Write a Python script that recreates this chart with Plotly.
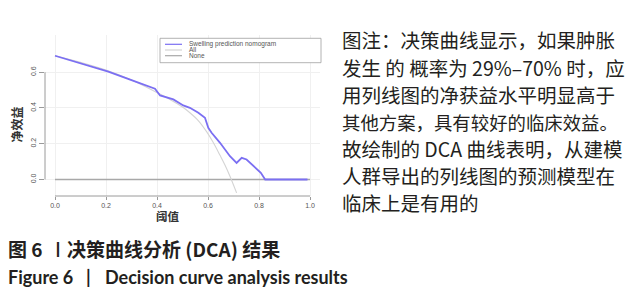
import plotly.graph_objects as go

# ---------------- data ----------------
threshold_model = [0, 0.1, 0.209, 0.3, 0.36, 0.392, 0.412, 0.431, 0.464, 0.503, 0.529,
                   0.562, 0.588, 0.601, 0.614, 0.647, 0.686, 0.712, 0.732, 0.751,
                   0.784, 0.807, 0.824, 0.9, 0.99]
nb_model = [0.692, 0.65, 0.603, 0.556, 0.526, 0.508, 0.47, 0.462, 0.448, 0.414, 0.401,
            0.373, 0.345, 0.289, 0.261, 0.205, 0.13, 0.093, 0.121, 0.112,
            0.065, 0.037, 0.0, 0.0, 0.0]

threshold_all = [0, 0.1, 0.2, 0.3, 0.4, 0.451, 0.5, 0.529, 0.56, 0.595, 0.62,
                 0.647, 0.67, 0.686, 0.712]
nb_all = [0.692, 0.655, 0.612, 0.556, 0.486, 0.447, 0.405, 0.373, 0.332, 0.266, 0.208,
          0.135, 0.07, 0.018, -0.075]

threshold_none = [0, 1]
nb_none = [0, 0]

series_names = ["Swelling prediction nomogram", "All", "None"]
series_colors = ["#7b6ff2", "#d4d4d4", "#a8a8a8"]

x_ticks = [0, 0.2, 0.4, 0.6, 0.8, 1.0]
x_ticklabels = ["0.0", "0.2", "0.4", "0.6", "0.8", "1.0"]
y_ticks = [0, 0.2, 0.4, 0.6]
y_ticklabels = ["0.0", "0.2", "0.4", "0.6"]

x_title = "阈值"
y_title = "净效益"

note_lines = [
    "图注：决策曲线显示，如果肿胀",
    "发生 的 概率为 29%–70% 时，应",
    "用列线图的净获益水平明显高于",
    "其他方案，具有较好的临床效益。",
    "故绘制的 DCA 曲线表明，从建模",
    "人群导出的列线图的预测模型在",
    "临床上是有用的",
]
caption_cn = ["图 6", "丨", "决策曲线分析 (DCA) 结果"]
caption_en = ["Figure 6", "|", "Decision curve analysis results"]

# ---------------- layout geometry ----------------
# the page body has an 8px margin, so the figure is drawn at (8, 8)
OFF = 8
W, H = 639 - OFF, 300 - OFF
# plot area in page pixels
L, R, T, B = 45, 320, 35, 196


def px(x):
    return (x - L) / (R - L)


def py(y):
    return (B - y) / (B - T)


CJK = "Noto Sans CJK SC"
TXT = "#231f20"
PAD = 2  # annotation inner padding

fig = go.Figure()
fig.add_trace(go.Scatter(x=threshold_none, y=nb_none, mode="lines", name=series_names[2],
                         line=dict(color=series_colors[2], width=1.3), showlegend=False))
fig.add_trace(go.Scatter(x=threshold_all, y=nb_all, mode="lines", name=series_names[1],
                         line=dict(color=series_colors[1], width=1.1, shape="spline"),
                         showlegend=False))
fig.add_trace(go.Scatter(x=threshold_model, y=nb_model, mode="lines", name=series_names[0],
                         line=dict(color=series_colors[0], width=1.8), showlegend=False))

shapes = []
# R-style axis lines spanning the tick range
shapes.append(dict(type="line", xref="paper", yref="y", x0=0, x1=0,
                   y0=y_ticks[0], y1=y_ticks[-1], line=dict(color="#9a9a9a", width=1)))
shapes.append(dict(type="line", xref="x", yref="paper", x0=x_ticks[0], x1=x_ticks[-1],
                   y0=0, y1=0, line=dict(color="#9a9a9a", width=1)))
# legend box
shapes.append(dict(type="rect", xref="paper", yref="paper", x0=px(160), x1=px(321),
                   y0=py(62.7), y1=py(38.3), line=dict(color="#a0a0a0", width=0.8),
                   fillcolor="white", layer="above"))
annotations = []
rows = [44.3, 50, 55.7]
for i, name in enumerate(series_names):
    shapes.append(dict(type="line", xref="paper", yref="paper", x0=px(165), x1=px(182),
                       y0=py(rows[i]), y1=py(rows[i]),
                       line=dict(color=series_colors[i], width=1.2), layer="above"))
    annotations.append(dict(xref="paper", yref="paper", x=px(189 - PAD), y=py(rows[i]),
                            text=name, showarrow=False, xanchor="left", yanchor="middle",
                            font=dict(family="Liberation Sans", size=6.5, color="#555")))

# axis titles
annotations.append(dict(xref="paper", yref="paper", x=px(16.5), y=py(125), text=y_title,
                        textangle=-90, showarrow=False, xanchor="center", yanchor="middle",
                        borderpad=0, borderwidth=0,
                        font=dict(family=CJK, size=12, color="#333", weight="bold")))
annotations.append(dict(xref="paper", yref="paper", x=px(168), y=py(215.5), text=x_title,
                        showarrow=False, xanchor="center", yanchor="middle",
                        font=dict(family=CJK, size=11.5, color="#333", weight="bold")))

# right-hand note (line 4 has 15 full-width glyphs, so slightly smaller to fit)
note_y = [40, 67.5, 94.5, 121.5, 148, 175, 202]
note_size = [19.5, 19.5, 19.5, 18.4, 19.5, 19.5, 19.5]
for t, yy, fs in zip(note_lines, note_y, note_size):
    annotations.append(dict(xref="paper", yref="paper", x=px(342 - PAD), y=py(yy),
                            text=t, showarrow=False, xanchor="left", yanchor="middle",
                            font=dict(family=CJK, size=fs, color=TXT)))

# captions
annotations.append(dict(xref="paper", yref="paper", x=px(8 - PAD), y=py(248),
                        text=caption_cn[0], showarrow=False, xanchor="left", yanchor="middle",
                        font=dict(family=CJK, size=19, color=TXT, weight="bold")))
annotations.append(dict(xref="paper", yref="paper", x=px(58), y=py(248),
                        text=caption_cn[1], showarrow=False, xanchor="center",
                        yanchor="middle",
                        font=dict(family=CJK, size=16, color=TXT, weight="bold")))
annotations.append(dict(xref="paper", yref="paper", x=px(67 - PAD), y=py(248),
                        text=caption_cn[2], showarrow=False, xanchor="left", yanchor="middle",
                        font=dict(family=CJK, size=19, color=TXT, weight="bold")))

annotations.append(dict(xref="paper", yref="paper", x=px(8 - PAD), y=py(277),
                        text=caption_en[0], showarrow=False, xanchor="left", yanchor="middle",
                        font=dict(family="Lato", size=18, color=TXT, weight="bold")))
annotations.append(dict(xref="paper", yref="paper", x=px(88), y=py(277),
                        text=caption_en[1], showarrow=False, xanchor="center",
                        yanchor="middle",
                        font=dict(family="Lato", size=18, color=TXT, weight="bold")))
annotations.append(dict(xref="paper", yref="paper", x=px(105 - PAD), y=py(277),
                        text=caption_en[2], showarrow=False, xanchor="left", yanchor="middle",
                        font=dict(family="Lato", size=18, color=TXT, weight="bold")))

fig.update_layout(
    width=W, height=H,
    margin=dict(l=L - OFF, r=W - (R - OFF), t=T - OFF, b=H - (B - OFF), pad=0),
    paper_bgcolor="white", plot_bgcolor="white",
    shapes=shapes, annotations=annotations,
    showlegend=False,
)
fig.update_xaxes(range=[-0.0392, 1.039], tickvals=x_ticks, ticktext=x_ticklabels,
                 showgrid=True, gridcolor="#f0f0f0", gridwidth=1, zeroline=False,
                 showline=False, ticks="outside", ticklen=3, tickcolor="#9a9a9a",
                 tickfont=dict(family="Liberation Sans", size=7, color="#555"))
fig.update_yaxes(range=[-0.0923, 0.808], tickvals=y_ticks, ticktext=y_ticklabels,
                 showgrid=True, gridcolor="#f0f0f0", gridwidth=1, zeroline=False,
                 showline=False, ticks="outside", ticklen=5, tickcolor="#9a9a9a",
                 tickangle=-90,
                 tickfont=dict(family="Liberation Sans", size=7, color="#555"))

fig.write_html("out.html")
